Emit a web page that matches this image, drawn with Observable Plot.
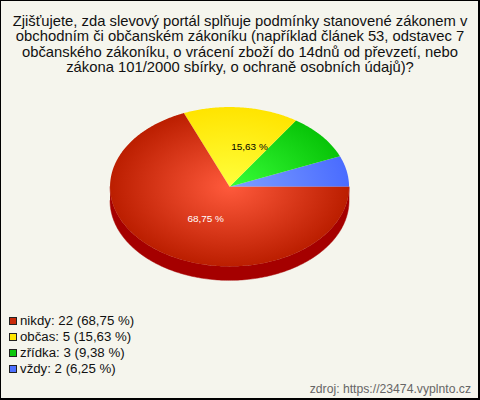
<!DOCTYPE html>
<html lang="cs">
<head>
<meta charset="utf-8">
<script src="https://cdn.jsdelivr.net/npm/d3@7"></script>
<script src="https://cdn.jsdelivr.net/npm/@observablehq/plot@0.6"></script>
<style>
html,body{margin:0;padding:0;background:#fff}
#frame{position:relative;box-sizing:border-box;width:480px;height:400px;background:#f5f5ed;border:1px solid #000;border-width:1px 2px 2px 1px;font-family:"Liberation Sans",Arial,sans-serif;color:#111;overflow:hidden}
#title{position:absolute;left:0;top:13px;width:478px;text-align:center;font-size:14.8px;line-height:15.4px}
#chart{position:absolute;left:-1px;top:-1px}
#legend{position:absolute;left:8px;top:312px;font-size:13.25px;line-height:16px}
#legend div{display:flex;align-items:center}
#legend i{display:inline-block;box-sizing:border-box;width:8px;height:8px;margin-right:3px;border:1px solid #222}
#src{position:absolute;right:7px;bottom:2px;font-size:12.2px;color:#666}
</style>
</head>
<body>
<div id="frame">
<div id="chart"></div>
<div id="title">Zjišťujete, zda slevový portál splňuje podmínky stanovené zákonem v<br>obchodním či občanském zákoníku (například článek 53, odstavec 7<br>občanského zákoníku, o vrácení zboží do 14dnů od převzetí, nebo<br>zákona 101/2000 sbírky, o ochraně osobních údajů)?</div>
<div id="legend"></div>
<div id="src">zdroj: https://23474.vyplnto.cz</div>
</div>
<script>
const categories = ["nikdy", "občas", "zřídka", "vždy"];
const counts = [22, 5, 3, 2];
const percentLabels = ["68,75 %", "15,63 %", "9,38 %", "6,25 %"];
const swatchColors = ["#c82a0a", "#ffe600", "#0dc80d", "#4d70ff"];
const innerColors = ["#ff5a3c", "#ffff3c", "#38ff38", "#7fa0ff"];
const outerColors = ["#bb1e00", "#ffe400", "#08c408", "#4a6cff"];
const rimColor = "#a50000";
const labelCategories = ["nikdy", "občas"];
const labelX = [-0.2, 0.167];
const labelY = [-0.4, 0.5];
const labelColors = ["#fff", "#000"];

const total = d3.sum(counts);
// Slices run counter-clockwise from 3 o'clock, last category first.
let acc = 0;
const slices = categories.map((c, i) => i).reverse().map(i => {
  const start = acc / total * 2 * Math.PI;
  acc += counts[i];
  return {i, start, end: acc / total * 2 * Math.PI};
});
const outline = s => {
  const n = Math.max(2, Math.ceil((s.end - s.start) * 90));
  const pts = [{i: s.i, x: 0, y: 0}];
  for (let k = 0; k <= n; k++) {
    const a = s.start + (s.end - s.start) * k / n;
    pts.push({i: s.i, x: Math.cos(a), y: Math.sin(a)});
  }
  pts.push({i: s.i, x: 0, y: 0});
  return pts;
};
const depth = 14 / 80;
const rim = [];
for (let k = 0; k <= 180; k++) { const a = Math.PI + Math.PI * k / 180; rim.push({x: Math.cos(a), y: Math.sin(a)}); }
for (let k = 180; k >= 0; k--) { const a = Math.PI + Math.PI * k / 180; rim.push({x: Math.cos(a), y: Math.sin(a) - depth}); }

const labels = labelCategories.map((c, i) => ({
  x: labelX[i], y: labelY[i], fill: labelColors[i],
  text: percentLabels[categories.indexOf(c)]
}));

const defs = (index, {x, y}) => {
  const svgNS = "http://www.w3.org/2000/svg";
  const d = document.createElementNS(svgNS, "defs");
  const cx = x(0), cy = y(0), rx = x(1) - x(0), ry = y(0) - y(1);
  categories.forEach((c, i) => {
    const g = document.createElementNS(svgNS, "radialGradient");
    g.setAttribute("id", "g" + i);
    g.setAttribute("gradientUnits", "userSpaceOnUse");
    g.setAttribute("cx", 0); g.setAttribute("cy", 0); g.setAttribute("r", 1);
    g.setAttribute("gradientTransform", `translate(${cx},${cy}) scale(${rx},${ry})`);
    [[0, innerColors[i]], [1, outerColors[i]]].forEach(([o, col]) => {
      const st = document.createElementNS(svgNS, "stop");
      st.setAttribute("offset", o); st.setAttribute("stop-color", col);
      g.appendChild(st);
    });
    d.appendChild(g);
  });
  return d;
};

const plot = Plot.plot({
  width: 480, height: 400,
  margin: 0,
  style: {background: "transparent", overflow: "visible"},
  x: {domain: [-230 / 120, 250 / 120], range: [0, 480], axis: null},
  y: {domain: [187 / 80, -213 / 80], range: [0, 400], axis: null},
  marks: [
    defs,
    Plot.line(rim, {x: "x", y: "y", fill: rimColor, stroke: rimColor, strokeWidth: 0.5, curve: "linear"}),
    ...slices.map(s => Plot.line(outline(s), {x: "x", y: "y", fill: `url(#g${s.i})`, stroke: "none", curve: "linear"})),
    Plot.text(labels, {x: "x", y: "y", text: "text", fill: "fill", fontSize: 10, fontFamily: "Liberation Sans, Arial, sans-serif"})
  ]
});
document.getElementById("chart").appendChild(plot);

const legend = document.getElementById("legend");
categories.forEach((c, i) => {
  const row = document.createElement("div");
  const sw = document.createElement("i");
  sw.style.background = swatchColors[i];
  row.appendChild(sw);
  row.appendChild(document.createTextNode(`${c}: ${counts[i]} (${percentLabels[i]})`));
  legend.appendChild(row);
});
</script>
</body>
</html>
